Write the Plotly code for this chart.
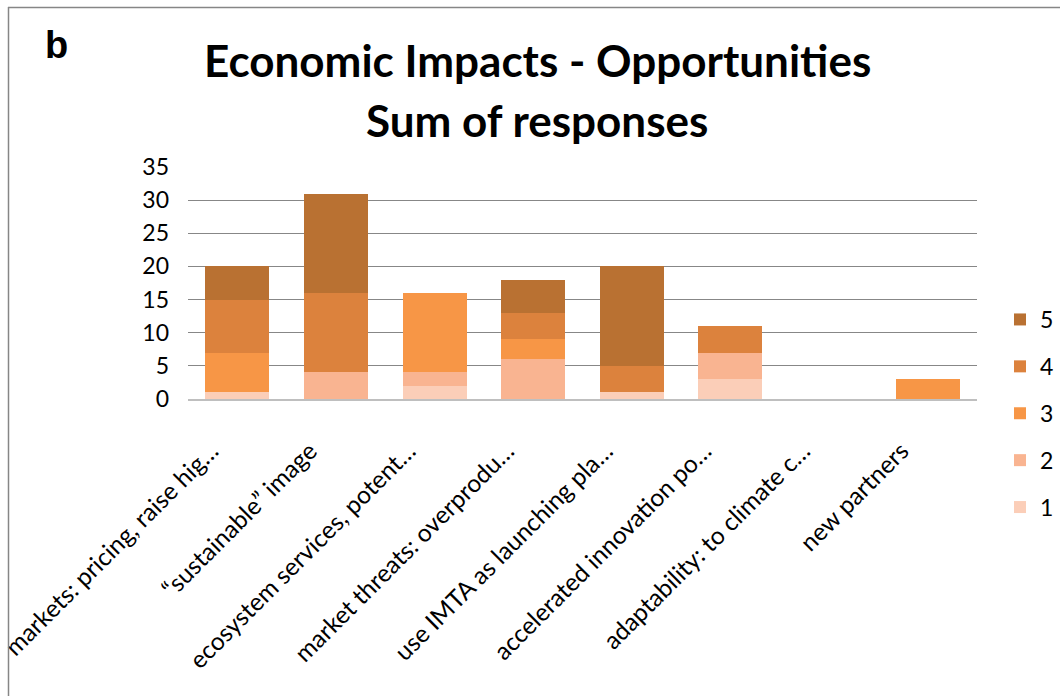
import plotly.graph_objects as go

categories = [
    "markets: pricing, raise hig…",
    "“sustainable” image",
    "ecosystem services, potent…",
    "market threats: overprodu…",
    "use IMTA as launching pla…",
    "accelerated innovation po…",
    "adaptability: to climate c…",
    "new partners",
]
series_names = ["1", "2", "3", "4", "5"]
s1 = [1, 0, 2, 0, 1, 3, 0, 0]
s2 = [0, 4, 2, 6, 0, 4, 0, 0]
s3 = [6, 0, 12, 3, 0, 0, 0, 3]
s4 = [8, 12, 0, 4, 4, 4, 0, 0]
s5 = [5, 15, 0, 5, 15, 0, 0, 0]
values = [s1, s2, s3, s4, s5]
colors = ["#FBCEB8", "#F9B491", "#F79646", "#DC823D", "#B97132"]
y_ticks = [0, 5, 10, 15, 20, 25, 30, 35]

FONT = "Lato, 'Open Sans', sans-serif"

fig = go.Figure()
n = len(series_names)
for i, (name, vals, col) in enumerate(zip(series_names, values, colors)):
    fig.add_trace(go.Bar(
        x=categories, y=vals, name=name, marker=dict(color=col, line=dict(width=0)),
        legendgroup=name, legendrank=n - i,
    ))

W, H = 1060, 696
L, R, T, B = 188, 83, 167, 297
pw, ph = W - L - R, H - T - B

def px_to_paper_x(px):
    return (px - L) / pw

def px_to_paper_y(py):
    return (H - B - py) / ph

fig.update_layout(
    width=W, height=H,
    margin=dict(l=L, r=R, t=T, b=B, autoexpand=False),
    barmode="stack",
    bargap=0.35,
    plot_bgcolor="white",
    paper_bgcolor="white",
    font=dict(family=FONT, color="black", size=22),
    showlegend=True,
    legend=dict(
        x=px_to_paper_x(1000), y=px_to_paper_y(298), xanchor="left", yanchor="top",
        traceorder="grouped", tracegroupgap=14,
        font=dict(size=23, family=FONT), itemwidth=30,
        bgcolor="rgba(0,0,0,0)",
    ),
    xaxis=dict(
        tickangle=-45, tickfont=dict(size=24.5, family=FONT),
        showline=True, linecolor="#BFBFBF", linewidth=2,
        showgrid=False, ticks="", automargin=False,
        ticklabelstandoff=26, ticklabelshift=-26,
    ),
    yaxis=dict(
        range=[0, 35], tickvals=y_ticks, tickfont=dict(size=23, family=FONT),
        showgrid=True, gridcolor="#878787", gridwidth=1.3,
        zeroline=False, ticks="", automargin=False, ticklabelstandoff=18,
    ),
    annotations=[
        dict(text="<b>Economic Impacts - Opportunities</b>", x=px_to_paper_x(537), y=px_to_paper_y(60),
             xref="paper", yref="paper", showarrow=False, font=dict(size=44, family=FONT),
             xanchor="center", yanchor="middle"),
        dict(text="<b>Sum of responses</b>", x=px_to_paper_x(537), y=px_to_paper_y(120),
             xref="paper", yref="paper", showarrow=False, font=dict(size=44, family=FONT),
             xanchor="center", yanchor="middle"),
        dict(text="<b>b</b>", x=px_to_paper_x(56), y=px_to_paper_y(45),
             xref="paper", yref="paper", showarrow=False,
             font=dict(size=38, family="Liberation Sans, Arial, sans-serif"),
             xanchor="center", yanchor="middle"),
    ],
    shapes=[
        dict(type="line", xref="paper", yref="paper",
             x0=px_to_paper_x(8), x1=px_to_paper_x(1080),
             y0=px_to_paper_y(7.5), y1=px_to_paper_y(7.5),
             line=dict(color="#868686", width=1.5)),
        dict(type="line", xref="paper", yref="paper",
             x0=px_to_paper_x(8.5), x1=px_to_paper_x(8.5),
             y0=px_to_paper_y(7), y1=px_to_paper_y(720),
             line=dict(color="#868686", width=1.5)),
    ],
)

fig.write_html("out.html")
